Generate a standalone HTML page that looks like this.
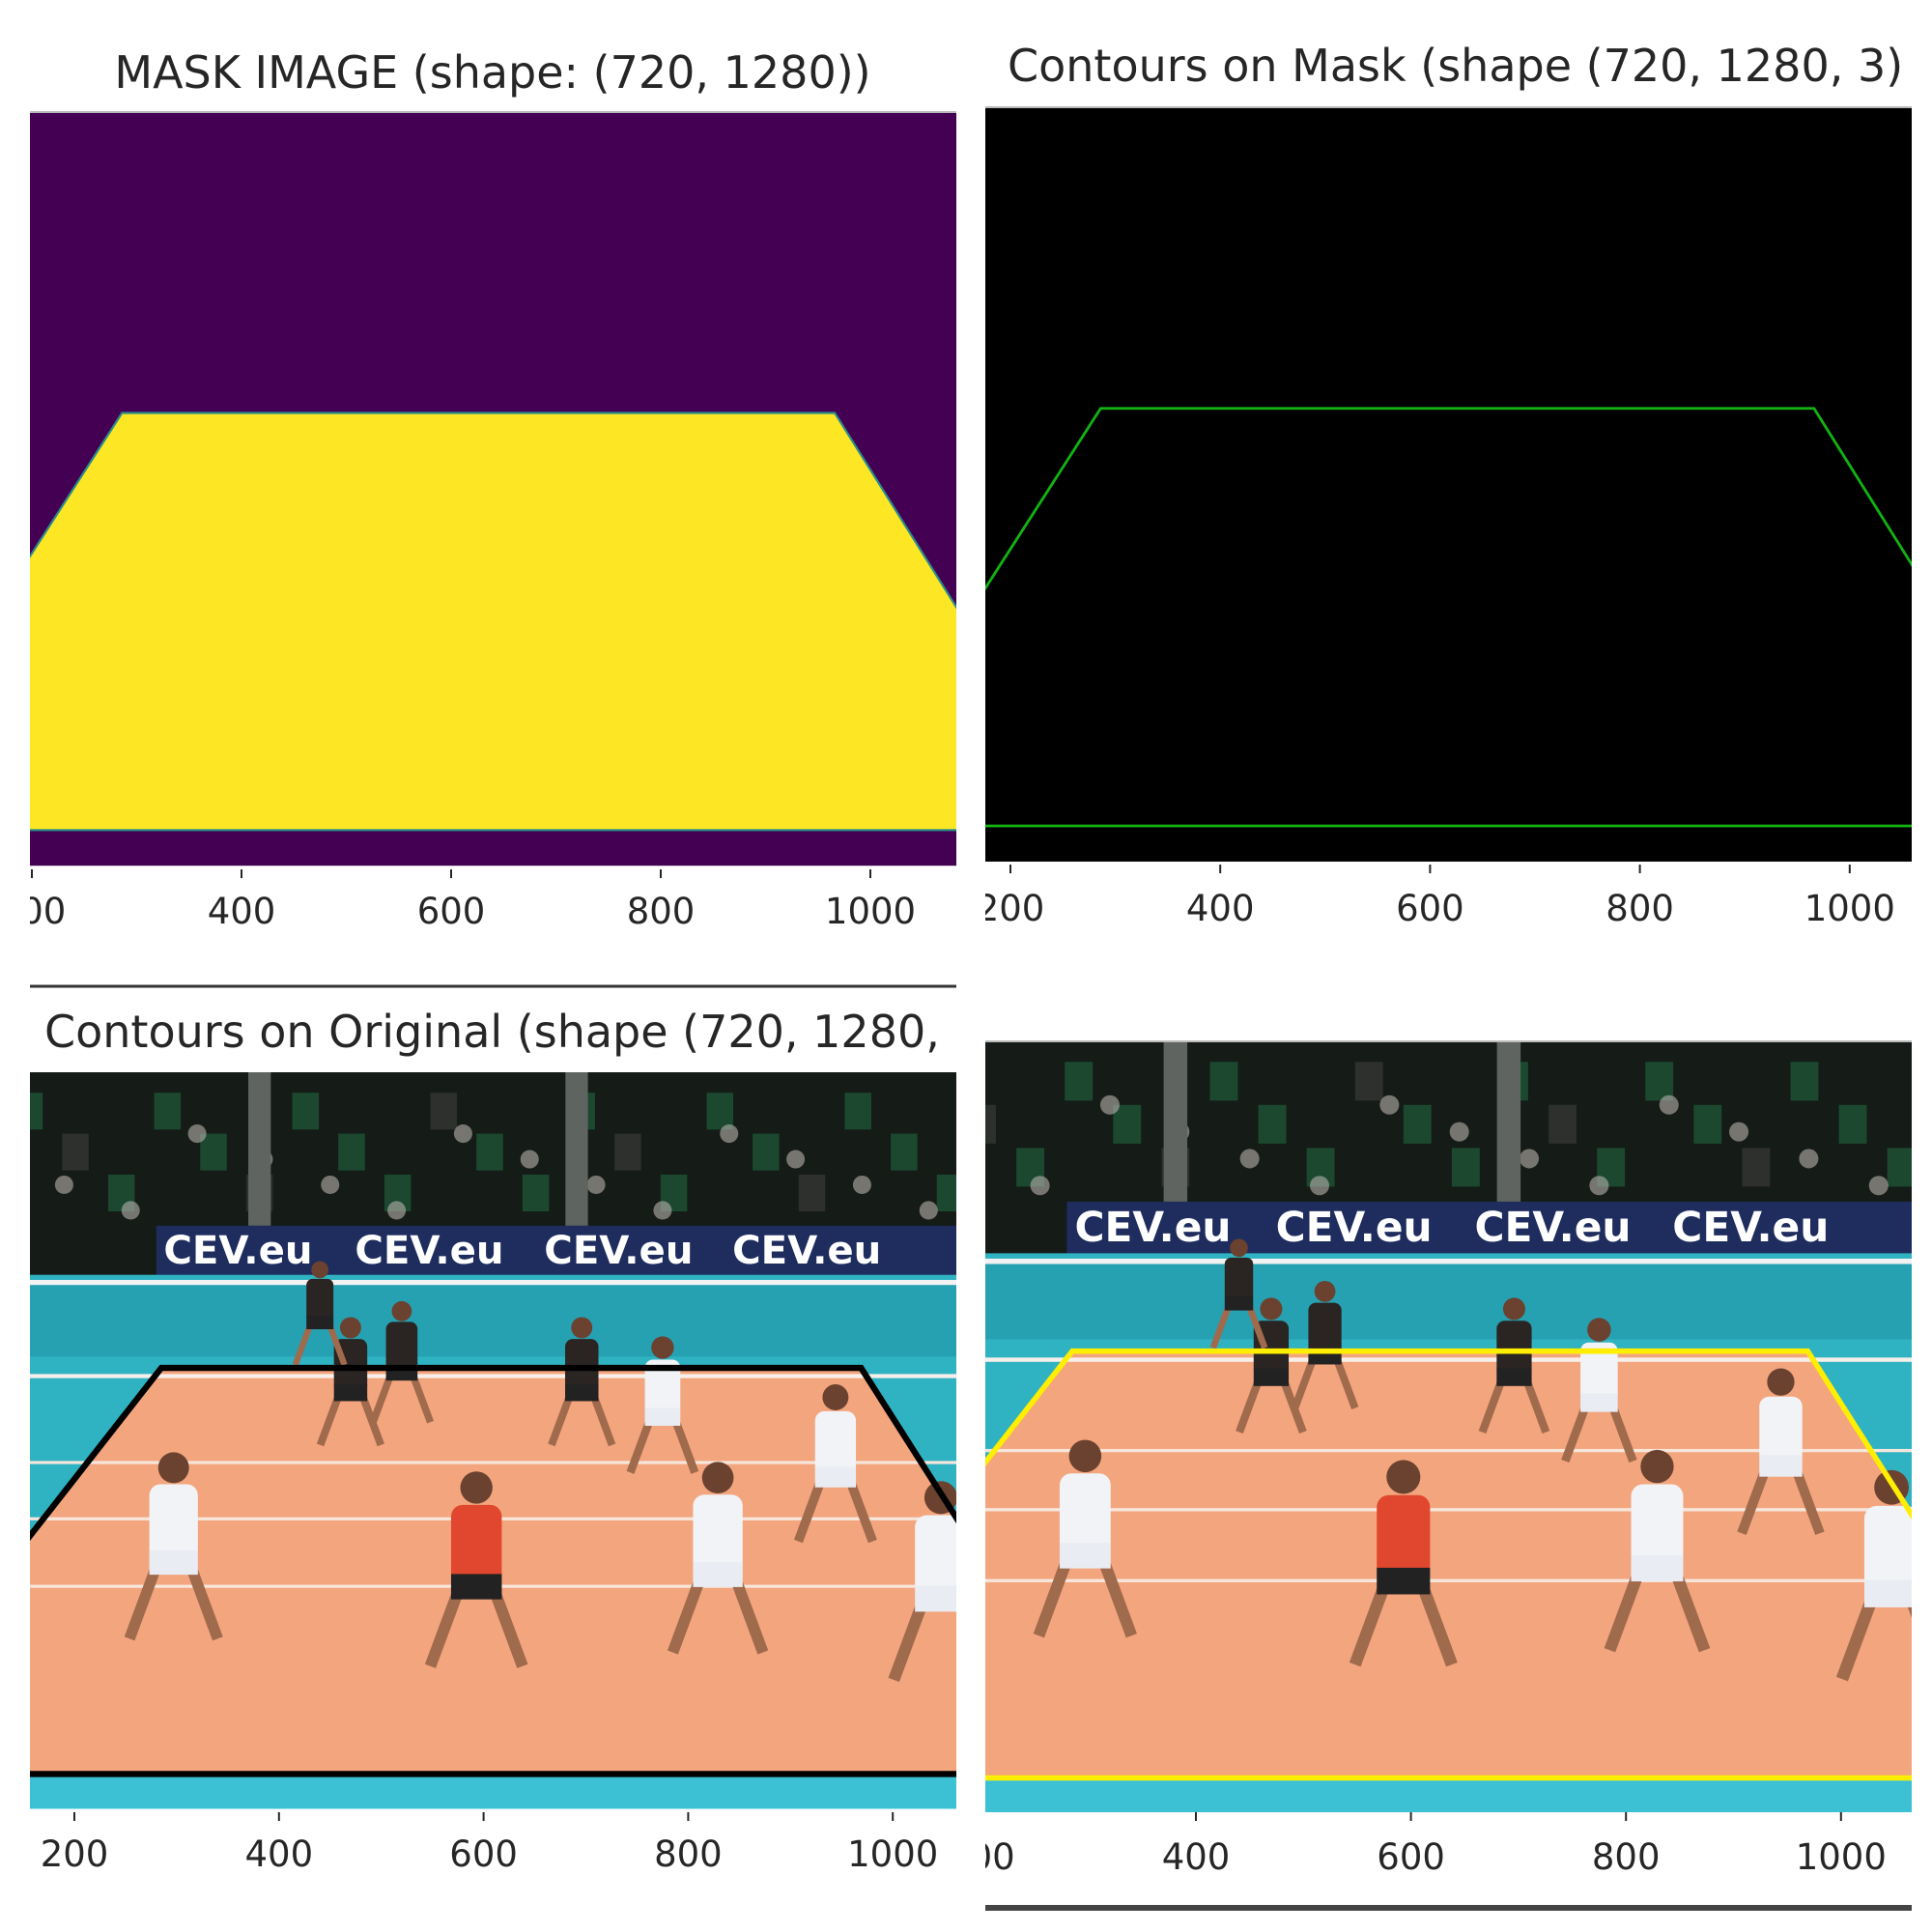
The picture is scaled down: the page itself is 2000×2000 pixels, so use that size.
<!DOCTYPE html>
<html><head><meta charset="utf-8">
<style>
html,body{margin:0;padding:0;background:#fff;}
svg{display:block;}
text{font-family:"DejaVu Sans","Liberation Sans",sans-serif;fill:#262626;}
</style></head>
<body>
<svg id="fig" xmlns="http://www.w3.org/2000/svg" width="2000" height="2000" viewBox="0 0 2000 2000">
<rect width="2000" height="2000" fill="#fff"/>
</svg>
<script>
// ---- data ----
const tickValues = [200, 400, 600, 800, 1000];
const tickLabels = ["200", "400", "600", "800", "1000"];
// contour of the court mask, image coordinates [x, y]
const maskContourX = [150, 286, 966, 1100, 1100, 150];
const maskContourY = [500, 288, 288, 502, 686, 686];
const origContourX = [120, 285, 969, 1100, 1100, 120];
const origContourY = [500, 289, 289, 495, 686, 686];
const playerX = [297, 593, 829, 944, 470, 520, 696, 775, 1047, 440];
const playerY = [489, 513, 501, 404, 320, 300, 320, 344, 525, 250];
const playerKit = ["w", "r", "w", "w", "d", "d", "d", "w", "w", "d"];
const bannerX = [360, 547, 732, 916];
const courtLineY = [380, 435, 501];

const titles = ["MASK IMAGE (shape: (720, 1280))", "Contours on Mask (shape (720, 1280, 3)",
                "Contours on Original (shape (720, 1280, 3)", ""];
// panel layout (pixel positions; not data)
const panels = [
  {x0:31, x1:990, y0:115, y1:900, org:200, orgPx:33, s:1.085, kind:"mask", tx:510, ty:91, anchor:"middle", tickY:956},
  {x0:1020, x1:1979, y0:110, y1:895, org:200, orgPx:1046, s:1.086, kind:"maskc", tx:1043, ty:84, anchor:"start", tickY:953},
  {x0:31, x1:990, y0:1110, y1:1876, org:200, orgPx:77, s:1.059, kind:"origK", tx:46, ty:1084, anchor:"start", tickY:1932},
  {x0:1020, x1:1979, y0:1077, y1:1876, org:400, orgPx:1238, s:1.113, kind:"origY", tx:0, ty:0, anchor:"start", tickY:1935}
];

const NS = "http://www.w3.org/2000/svg";
const fig = document.getElementById("fig");
function mk(tag, attrs, parent){
  const e = document.createElementNS(NS, tag);
  for (const k in attrs) e.setAttribute(k, attrs[k]);
  (parent||fig).appendChild(e);
  return e;
}
function pts(xs, ys){ return xs.map((x,i)=>x+","+ys[i]).join(" "); }

const defs = mk("defs", {});

function drawScene(g, kind){
  mk("rect",{x:0,y:0,width:1280,height:200,fill:"#151b16"},g);
  for(let i=0;i<30;i++){
    mk("rect",{x:i*45+8,y:20+(i%3)*40,width:26,height:36,fill:i%4==0?"#333633":"#1d5436",opacity:0.8},g);
  }
  for(let i=0;i<18;i++){
    mk("circle",{cx:60+i*65,cy:60+(i%4)*25,r:9,fill:"#b8b3ad",opacity:0.6},g);
  }
  mk("rect",{x:370,y:0,width:22,height:150,fill:"#5f6460"},g);
  mk("rect",{x:680,y:0,width:22,height:150,fill:"#5f6460"},g);
  const b = mk("rect",{x:280,y:150,width:1000,height:48,fill:"#1e2c5e"},g);
  
  
  bannerX.forEach(bx=>{
    const t = mk("text",{x:bx,y:187,"text-anchor":"middle","font-size":38,"font-weight":"bold",style:"fill:#ffffff"},g);
    t.textContent = "CEV.eu";
    
    
  });
  mk("rect",{x:0,y:198,width:1280,height:522,fill:"#2fb3c3"},g);
  mk("rect",{x:0,y:203,width:1280,height:5,fill:"#f2f2f2"},g);
  mk("rect",{x:0,y:208,width:1280,height:70,fill:"#1e8fa0",opacity:0.5},g);
  const court = mk("polygon",{points:pts(origContourX,origContourY),fill:"#f3a57e"},g);
  
  
  mk("rect",{x:0,y:295,width:1280,height:4,fill:"#f7f0ea"},g);
  courtLineY.forEach(cy=>{ mk("rect",{x:0,y:cy,width:1280,height:3,fill:"#f7e6dc"},g); });
  mk("rect",{x:0,y:686,width:1280,height:34,fill:"#3cc0d4"},g);
  playerX.forEach((px,i)=>{
    const py = playerY[i];
    const sc = 0.6 + (py-250)/500;
    const kit = playerKit[i];
    const body = kit=="w"?"#f1f3f6":kit=="r"?"#e0472e":"#2a2422";
    const pg = mk("g",{transform:"translate("+px+","+py+") scale("+sc+")"},g);
    
    
    mk("circle",{cx:0,cy:-95,r:14,fill:"#6b4230"},pg);
    mk("rect",{x:-22,y:-80,width:44,height:70,rx:10,fill:body},pg);
    mk("line",{x1:-14,y1:-10,x2:-40,y2:60,stroke:"#a06a4d","stroke-width":10},pg);
    mk("line",{x1:14,y1:-10,x2:40,y2:60,stroke:"#a06a4d","stroke-width":10},pg);
    mk("rect",{x:-22,y:-20,width:44,height:22,fill:kit=="w"?"#e9edf3":"#222"},pg);
  });
}

panels.forEach((p,pi)=>{
  const clipId = "clip"+pi;
  const cp = mk("clipPath",{id:clipId},defs);
  mk("rect",{x:p.x0,y:p.y0,width:p.x1-p.x0,height:p.y1-p.y0},cp);
  const colId = "col"+pi;
  const cc = mk("clipPath",{id:colId},defs);
  mk("rect",{x:p.x0,y:0,width:p.x1-p.x0,height:2000},cc);
  const ax = mk("g",{"clip-path":"url(#"+clipId+")"});
  
  
  const g = mk("g",{transform:"translate("+(p.orgPx - p.org*p.s)+","+p.y0+") scale("+p.s+")"},ax);
  if(p.kind=="mask"){
    mk("rect",{x:0,y:0,width:1280,height:720,fill:"#440154"},g);
    const m = mk("polygon",{points:pts(maskContourX,maskContourY),fill:"#fde725",stroke:"#2a8c8a","stroke-width":2},g);
    
    
  } else if(p.kind=="maskc"){
    mk("rect",{x:0,y:0,width:1280,height:720,fill:"#000"},g);
    const c = mk("polygon",{points:pts(maskContourX,maskContourY),fill:"none",stroke:"#12b312","stroke-width":2.6},g);
    
    
  } else {
    drawScene(g,p.kind);
    const c = mk("polygon",{points:pts(origContourX,origContourY),fill:"none",stroke:p.kind=="origK"?"#000":"#ffee00","stroke-width":p.kind=="origK"?6:5},g);
    
    
  }
  const col = mk("g",{"clip-path":"url(#"+colId+")"});
  tickValues.forEach((v,i)=>{
    const x = p.orgPx + (v-p.org)*p.s;
    const t = mk("line",{x1:x,y1:p.y1,x2:x,y2:p.y1+9,stroke:"#262626","stroke-width":2},col);
    
    
    const lb = mk("text",{x:x,y:p.tickY,"text-anchor":"middle","font-size":37},col);
    lb.textContent = tickLabels[i];
    
    
  });
  if(titles[pi]){
    const tt = mk("text",{x:p.tx,y:p.ty,"text-anchor":p.anchor,"font-size":46},col);
    tt.textContent = titles[pi];
    
    
  }
});
const s1 = mk("line",{x1:31,y1:1021,x2:990,y2:1021,stroke:"#333","stroke-width":3});


const s2 = mk("line",{x1:1020,y1:1975,x2:1979,y2:1975,stroke:"#444","stroke-width":6});


mk("line",{x1:31,y1:116,x2:990,y2:116,stroke:"#bbb","stroke-width":2});
mk("line",{x1:1020,y1:111,x2:1979,y2:111,stroke:"#bbb","stroke-width":2});
mk("line",{x1:1020,y1:1078,x2:1979,y2:1078,stroke:"#bbb","stroke-width":2});
</script>
</body></html>
